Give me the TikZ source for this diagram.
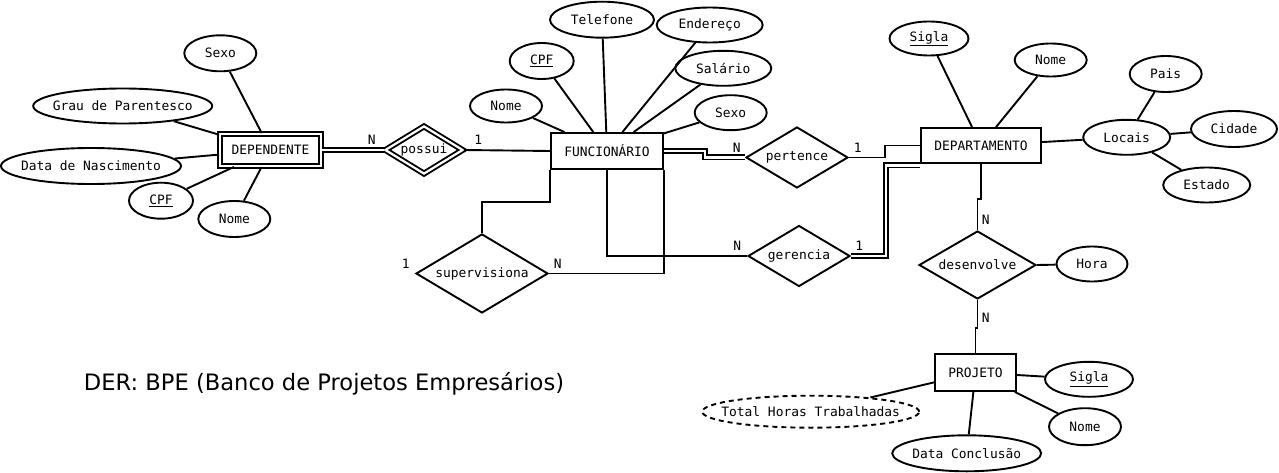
\documentclass[tikz,border=0pt]{standalone}
\usepackage{fontspec}
\setmainfont{DejaVu Sans}
\setmonofont{DejaVu Sans Mono}
\usetikzlibrary{shapes.geometric}
\tikzset{
  flat/.style = {execute at begin node={\hbox to 0pt\bgroup\hss},
                 execute at end node={\hss\egroup}},
  mono/.style = {font=\ttfamily\fontsize{12.9}{15}\selectfont},
  entity/.style = {rectangle, draw, mono, inner sep=0pt},
  weakent/.style = {entity, double, double distance=2.2pt},
  attr/.style = {ellipse, draw, mono, flat, inner sep=0pt},
  derived/.style = {attr, dash pattern=on 5pt off 4pt},
  rel/.style = {diamond, draw, mono, flat, inner sep=0pt},
  weakrel/.style = {rel, double, double distance=2.2pt},
  dbl/.style = {double, double distance=2.2pt},
  card/.style = {mono, inner sep=0pt}
}
\begin{document}
\begin{tikzpicture}[x=1pt, y=-1pt, line width=1.9pt]
	\useasboundingbox (0,0) rectangle (1279,473);

	% Entities
	\node[weakent, minimum width=101pt, minimum height=32pt] (dep) at (270.5,150) {DEPENDENTE};
	\node[entity, minimum width=112pt, minimum height=36pt] (func) at (607,151) {FUNCIONÁRIO};
	\node[entity, minimum width=120pt, minimum height=35pt] (dept) at (981,145.5) {DEPARTAMENTO};
	\node[entity, minimum width=81pt, minimum height=37pt] (proj) at (975.5,372.5) {PROJETO};

	% Relationships
	\node[weakrel, minimum width=78pt, minimum height=48pt] (possui) at (424,150) {possui};
	\node[rel, minimum width=102pt, minimum height=61pt] (pert) at (797,157.5) {pertence};
	\node[rel, minimum width=102pt, minimum height=61pt] (ger) at (799,256) {gerencia};
	\node[rel, minimum width=132pt, minimum height=79pt] (sup) at (482,273.5) {supervisiona};
	\node[rel, minimum width=117pt, minimum height=68pt] (desenv) at (977.5,265) {desenvolve};

	% Attributes DEPENDENTE
	\node[attr, minimum width=72pt, minimum height=36pt] (dsexo) at (220.3,53.3) {Sexo};
	\node[attr, minimum width=179pt, minimum height=35pt] (dgrau) at (122.7,106) {Grau de Parentesco};
	\node[attr, minimum width=180pt, minimum height=36pt] (dnasc) at (91,166) {Data de Nascimento};
	\node[attr, minimum width=64pt, minimum height=36pt] (dcpf) at (161,200.7) {\underline{CPF}};
	\node[attr, minimum width=72pt, minimum height=36pt] (dnome) at (234.3,219) {Nome};

	% Attributes FUNCIONARIO
	\node[attr, minimum width=104pt, minimum height=36pt] (ftel) at (602,19.7) {Telefone};
	\node[attr, minimum width=106pt, minimum height=35pt] (fend) at (709.7,25) {Endereço};
	\node[attr, minimum width=96pt, minimum height=35pt] (fsal) at (723.3,68.3) {Salário};
	\node[attr, minimum width=72pt, minimum height=35pt] (fsexo) at (730.7,112.7) {Sexo};
	\node[attr, minimum width=64pt, minimum height=36pt] (fcpf) at (541.7,61) {\underline{CPF}};
	\node[attr, minimum width=72pt, minimum height=33pt] (fnome) at (506,106) {Nome};

	% Attributes DEPARTAMENTO
	\node[attr, minimum width=79pt, minimum height=34pt] (dpsigla) at (929,38.5) {\underline{Sigla}};
	\node[attr, minimum width=72pt, minimum height=33pt] (dpnome) at (1050.7,60) {Nome};
	\node[attr, minimum width=87pt, minimum height=35pt] (locais) at (1126.7,137.3) {Locais};
	\node[attr, minimum width=72pt, minimum height=36pt] (pais) at (1165.7,74) {Pais};
	\node[attr, minimum width=86pt, minimum height=36pt] (cidade) at (1234,129) {Cidade};
	\node[attr, minimum width=87pt, minimum height=35pt] (estado) at (1206.7,185) {Estado};

	% Attributes desenvolve / PROJETO
	\node[attr, minimum width=71pt, minimum height=35pt] (hora) at (1092,264) {Hora};
	\node[attr, minimum width=88pt, minimum height=35pt] (psigla) at (1089,379.3) {\underline{Sigla}};
	\node[attr, minimum width=72pt, minimum height=37pt] (pnome) at (1085,426.7) {Nome};
	\node[attr, minimum width=149pt, minimum height=36pt] (pdata) at (966.7,453.3) {Data Conclusão};
	\node[derived, minimum width=217pt, minimum height=32pt] (ptotal) at (810.7,411.7) {Total Horas Trabalhadas};

	% Attribute lines
	\foreach \a in {dsexo,dgrau,dnasc,dcpf,dnome}
		\draw (\a) -- (dep);
	\foreach \a in {ftel,fend,fsal,fsexo,fcpf,fnome}
		\draw (\a) -- (func);
	\foreach \a in {dpsigla,dpnome,locais}
		\draw (\a) -- (dept);
	\foreach \a in {pais,cidade,estado}
		\draw (\a) -- (locais);
	\foreach \a in {psigla,pnome,pdata,ptotal}
		\draw (\a) -- (proj);
	\draw (desenv.east) -- (hora);

	% Relationship lines
	\draw[dbl] (dep.east) -- (possui.west);
	\draw (possui.east) -- (func.west);
	\draw[dbl] (func.east) -- ++(41,0) |- (pert.west);
	\draw (pert.east) -- ++(36,0) |- (dept.west);
	\draw (func.south) |- (ger.west);
	\draw[dbl] (ger.east) -- ++(35,0) |- ([yshift=-1.5pt]dept.south west);
	\draw (func.south west) -- ++(0,32) -| (sup.north);
	\draw (sup.east) -| (func.south east);
	\draw (dept.south) -- ++(0,35) -| (desenv.north);
	\draw (desenv.south) -- ++(0,28) -| (proj.north);

	% Cardinalities
	\node[card] (cposN) at (371.7,139.3) {N};
	\node[card] (cpos1) at (478.3,139.3) {1};
	\node[card] (cperN) at (736.7,147.7) {N};
	\node[card] (cper1) at (857.7,147.7) {1};
	\node[card] (cgerN) at (737.3,246) {N};
	\node[card] (cger1) at (859.3,246) {1};
	\node[card] (csup1) at (405.7,264) {1};
	\node[card] (csupN) at (557.7,264) {N};
	\node[card] (cdesN) at (985.7,219.3) {N};
	\node[card] (cdes2) at (985.7,317.3) {N};

	% Title
	\node[anchor=west, inner sep=0pt, font=\fontsize{22.6}{26}\selectfont] (title) at (83,384) {DER: BPE (Banco de Projetos Empresários)};
\end{tikzpicture}
\end{document}
